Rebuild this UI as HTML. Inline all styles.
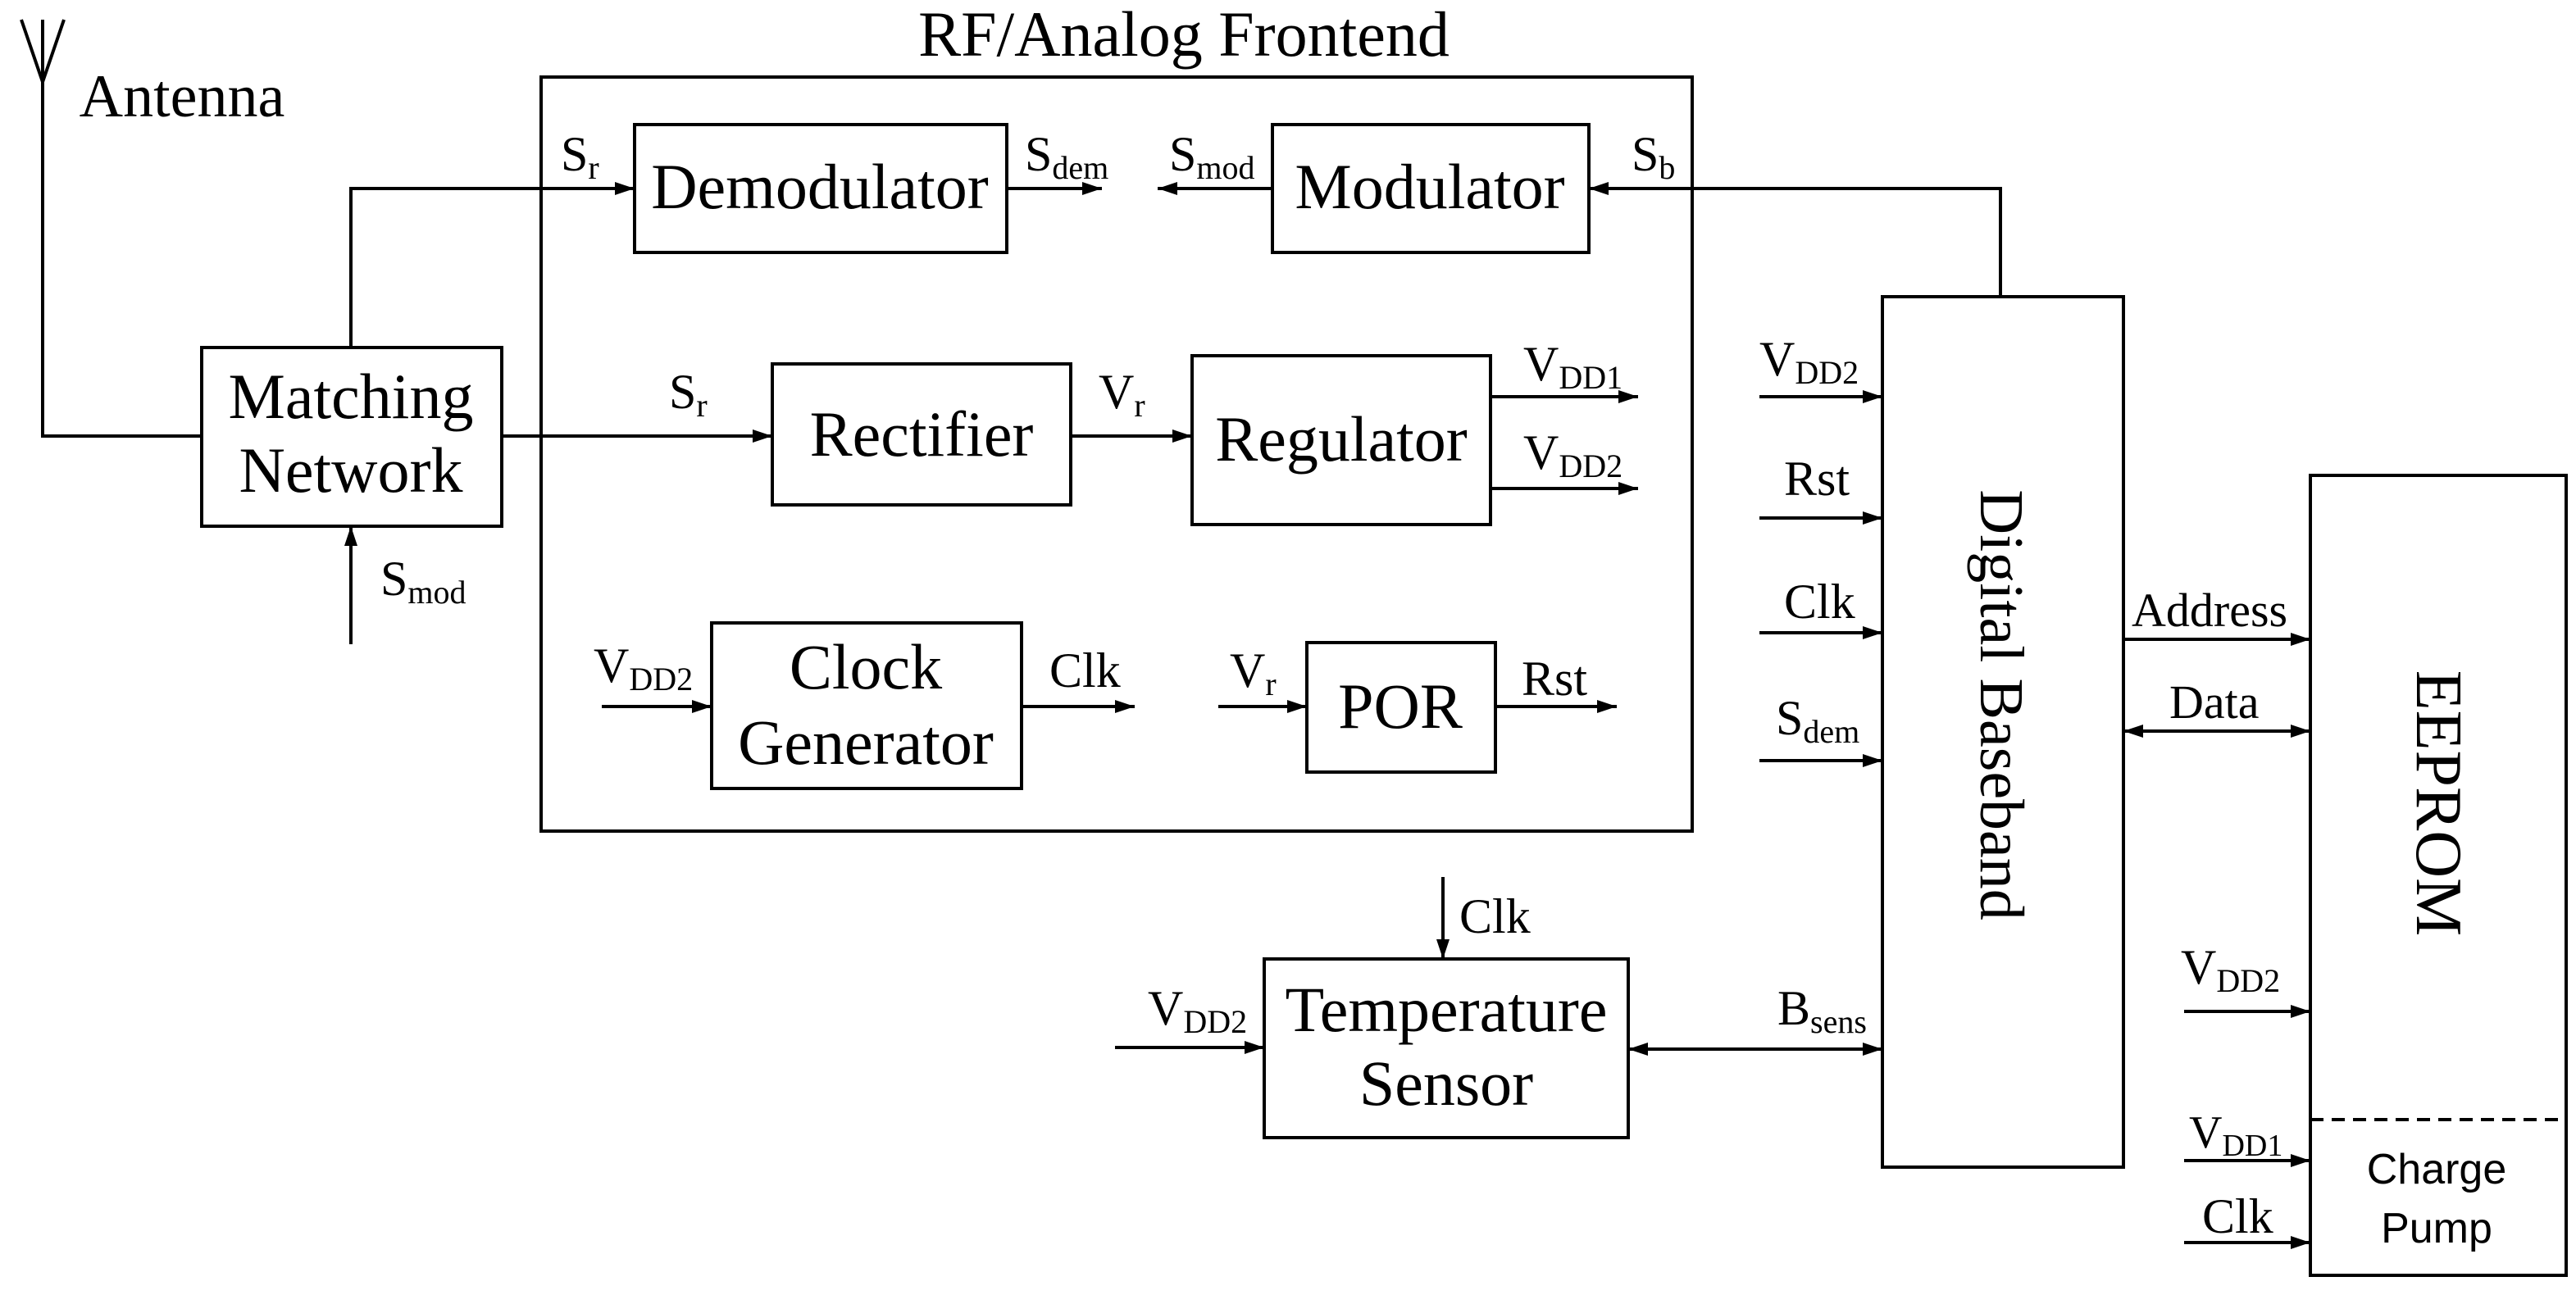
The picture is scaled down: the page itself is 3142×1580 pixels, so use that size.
<!DOCTYPE html>
<html><head><meta charset="utf-8"><style>html,body{margin:0;padding:0;background:#fff}svg{display:block}</style></head>
<body>
<svg xmlns="http://www.w3.org/2000/svg" width="3142" height="1580" viewBox="0 0 1571 790" font-family="Liberation Serif, serif">
<defs><marker id="a" markerWidth="12" markerHeight="8" refX="12" refY="4" orient="auto-start-reverse" markerUnits="userSpaceOnUse"><path d="M0,0 L12,4 L0,8 z" fill="#000"/></marker></defs>
<g fill="none" stroke="#000" stroke-width="2">
<path d="M26,50 L26,266 L123,266 M26,50 L13,12 M26,50 L39,12 M26,50 L26,12"/>
<rect x="123" y="212" width="183" height="109"/>
<rect x="330" y="47" width="702" height="460"/>
<rect x="387" y="76" width="227" height="78"/>
<rect x="776" y="76" width="193" height="78"/>
<rect x="471" y="222" width="182" height="86"/>
<rect x="727" y="217" width="182" height="103"/>
<rect x="434" y="380" width="189" height="101"/>
<rect x="797" y="392" width="115" height="79"/>
<rect x="771" y="585" width="222" height="109"/>
<rect x="1148" y="181" width="147" height="531"/>
<rect x="1409" y="290" width="156" height="488"/>
<path d="M1409,683 L1565,683" stroke-dasharray="8,5"/>
<g marker-end="url(#a)">
<path d="M214,212 L214,115 L387,115"/>
<path d="M214,393 L214,321"/>
<path d="M614,115 L672,115"/>
<path d="M776,115 L706,115"/>
<path d="M1220,181 L1220,115 L969,115"/>
<path d="M306,266 L471,266"/>
<path d="M653,266 L727,266"/>
<path d="M909,242 L999,242"/>
<path d="M909,298 L999,298"/>
<path d="M367,431 L434,431"/>
<path d="M623,431 L692,431"/>
<path d="M743,431 L797,431"/>
<path d="M912,431 L986,431"/>
<path d="M880,535 L880,585"/>
<path d="M680,639 L771,639"/>
<path d="M993,640 L1148,640" marker-start="url(#a)"/>
<path d="M1073,242 L1148,242"/>
<path d="M1073,316 L1148,316"/>
<path d="M1073,386 L1148,386"/>
<path d="M1073,464 L1148,464"/>
<path d="M1295,390 L1409,390"/>
<path d="M1295,446 L1409,446" marker-start="url(#a)"/>
<path d="M1332,617 L1409,617"/>
<path d="M1332,708 L1409,708"/>
<path d="M1332,758 L1409,758"/>
</g></g>
<g fill="#000" font-size="39" text-anchor="middle">
<text x="722" y="34">RF/Analog Frontend</text>
<text x="111" y="71" font-size="37">Antenna</text>
<text x="214" y="255">Matching</text><text x="214" y="300">Network</text>
<text x="500" y="127">Demodulator</text>
<text x="872" y="127">Modulator</text>
<text x="562" y="278">Rectifier</text>
<text x="818" y="281">Regulator</text>
<text x="528" y="420">Clock</text><text x="528" y="466">Generator</text>
<text x="854" y="444">POR</text>
<text x="882" y="629">Temperature</text><text x="882" y="674">Sensor</text>
<text transform="translate(1208,430) rotate(90)" font-size="38">Digital Baseband</text>
<text transform="translate(1474,490) rotate(90)" font-size="40">EEPROM</text>
<text x="1486" y="722" font-size="26" font-family="Liberation Sans, sans-serif">Charge</text>
<text x="1486" y="758" font-size="26" font-family="Liberation Sans, sans-serif">Pump</text>
</g>
<g fill="#000" font-size="30">
<text x="342" y="104">S<tspan font-size="20" dy="5">r</tspan></text>
<text x="625" y="104">S<tspan font-size="20" dy="5">dem</tspan></text>
<text x="713" y="104">S<tspan font-size="20" dy="5">mod</tspan></text>
<text x="995" y="104">S<tspan font-size="20" dy="5">b</tspan></text>
<text x="232" y="363">S<tspan font-size="20" dy="5">mod</tspan></text>
<text x="408" y="249">S<tspan font-size="20" dy="5">r</tspan></text>
<text x="670" y="249">V<tspan font-size="20" dy="5">r</tspan></text>
<text x="929" y="232">V<tspan font-size="20" dy="5">DD1</tspan></text>
<text x="929" y="286">V<tspan font-size="20" dy="5">DD2</tspan></text>
<text x="362" y="416">V<tspan font-size="20" dy="5">DD2</tspan></text>
<text x="640" y="419">Clk</text>
<text x="750" y="419">V<tspan font-size="20" dy="5">r</tspan></text>
<text x="928" y="424">Rst</text>
<text x="890" y="569">Clk</text>
<text x="700" y="625">V<tspan font-size="20" dy="5">DD2</tspan></text>
<text x="1084" y="625">B<tspan font-size="20" dy="5">sens</tspan></text>
<text x="1073" y="229">V<tspan font-size="20" dy="5">DD2</tspan></text>
<text x="1088" y="302">Rst</text>
<text x="1088" y="377">Clk</text>
<text x="1083" y="448">S<tspan font-size="20" dy="5">dem</tspan></text>
<text x="1300" y="382" font-size="29">Address</text>
<text x="1323" y="438" font-size="29">Data</text>
<text x="1330" y="600">V<tspan font-size="20" dy="5">DD2</tspan></text>
<text x="1335" y="700" font-size="28">V<tspan font-size="19" dy="5">DD1</tspan></text>
<text x="1343" y="752">Clk</text>
</g>
</svg>
</body></html>
